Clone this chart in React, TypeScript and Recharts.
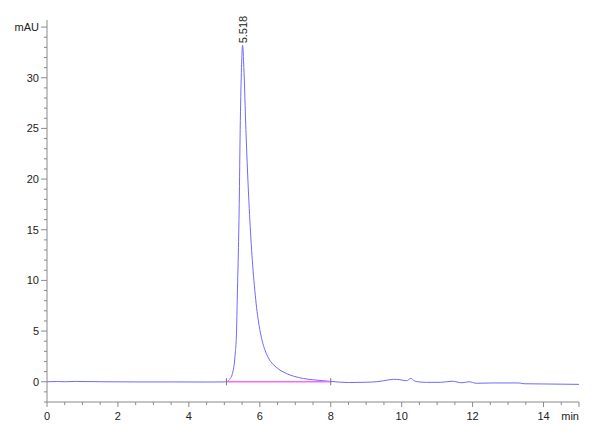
import { LineChart, Line, XAxis, YAxis, ReferenceLine, ReferenceDot } from "recharts";

// chromatogram trace (min / mAU)
const TIME = [
  0, 0.3, 0.5, 0.8, 1.5, 2.5, 3.5, 4.5, 5.0, 5.06, 5.14, 5.23, 5.3, 5.345, 5.37, 5.39, 5.42, 5.447, 5.48, 5.515,
  5.55, 5.608, 5.656, 5.73, 5.81, 5.86, 5.91, 5.96, 6.0, 6.07, 6.14, 6.22, 6.3, 6.38, 6.48, 6.6, 6.76, 6.95, 7.23,
  7.5, 7.78, 8.0, 8.5, 9.0, 9.3, 9.5, 9.77, 9.95, 10.14, 10.26, 10.35, 10.45, 10.7, 11.1, 11.42, 11.7, 11.9, 12.1,
  12.6, 13.3, 13.45, 14.0, 14.5, 15.0,
];
const SIGNAL = [
  0, 0.02, 0, 0.03, 0, -0.02, -0.02, -0.03, -0.02, 0, 0.2, 0.83, 2.5, 5.1, 9.06, 12.0, 17.5, 24.9, 30.5, 33.2,
  31.0, 24.9, 20.6, 15.3, 11.0, 9.0, 7.3, 6.0, 5.15, 4.0, 3.18, 2.5, 2.02, 1.7, 1.38, 1.08, 0.8, 0.55, 0.32,
  0.19, 0.1, 0.03, -0.08, -0.05, 0.0, 0.1, 0.24, 0.2, 0.1, 0.33, 0.1, 0.0, -0.06, -0.06, 0.05, -0.1, 0.0, -0.15,
  -0.12, -0.12, -0.2, -0.22, -0.24, -0.26,
];

// integration baseline + its end markers
const BASE_T = [5.06, 8.0];
const BASE_V = [0, 0];

const PEAK_T = 5.518;
const PEAK_V = 33.2;
const PEAK_LABEL = "5.518";

const X_TICKS = [0, 0.5, 1, 1.5, 2, 2.5, 3, 3.5, 4, 4.5, 5, 5.5, 6, 6.5, 7, 7.5, 8, 8.5, 9, 9.5, 10, 10.5, 11, 11.5, 12, 12.5, 13, 13.5, 14, 14.5, 15];
const X_LABEL_AT = [0, 2, 4, 6, 8, 10, 12, 14, 15];
const X_LABEL_TXT = ["0", "2", "4", "6", "8", "10", "12", "14", "min"];

const Y_TICKS = [-2, -1, 0, 1, 2, 3, 4, 5, 6, 7, 8, 9, 10, 11, 12, 13, 14, 15, 16, 17, 18, 19, 20, 21, 22, 23, 24, 25, 26, 27, 28, 29, 30, 31, 32, 33, 34, 35];
const Y_LABEL_AT = [0, 5, 10, 15, 20, 25, 30, 35];
const Y_LABEL_TXT = ["0", "5", "10", "15", "20", "25", "30", "mAU"];

const trace = TIME.map((t, i) => ({ t, v: SIGNAL[i] }));
const baseline = BASE_T.map((t, i) => ({ t, v: BASE_V[i] }));

const AXIS = "#8a8a8a";
const FONT = "'Liberation Sans', Arial, sans-serif";

function XTick({ x, y, payload }: any) {
  const k = X_LABEL_AT.indexOf(payload.value);
  const major = k >= 0;
  return (
    <g>
      <line x1={x} x2={x} y1={y} y2={y + (major ? 5 : 3)} stroke={AXIS} />
      {major && (
        <text x={x} y={y + 18} textAnchor={payload.value === 15 ? "end" : "middle"} fontSize={11} fontFamily={FONT} fill="#222">
          {X_LABEL_TXT[k]}
        </text>
      )}
    </g>
  );
}

function YTick({ x, y, payload }: any) {
  const k = Y_LABEL_AT.indexOf(payload.value);
  const major = k >= 0;
  return (
    <g>
      <line x1={x - (major ? 6 : 3)} x2={x} y1={y} y2={y} stroke={AXIS} />
      {major && (
        <text x={x - 8} y={y + 4} textAnchor="end" fontSize={11} fontFamily={FONT} fill="#222">
          {Y_LABEL_TXT[k]}
        </text>
      )}
    </g>
  );
}

function PeakLabel({ cx, cy }: any) {
  return (
    <text transform={`translate(${cx},${cy - 2}) rotate(-90)`} dominantBaseline="central" fontSize={11} fontFamily={FONT} fill="#222">
      {PEAK_LABEL}
    </text>
  );
}

export default function App() {
  return (
    <div style={{ position: "absolute", left: 0, top: 0, width: 600, height: 440, background: "#fff" }}>
      <LineChart width={600} height={440} margin={{ top: 20, right: 21, bottom: 0, left: 0 }}>
        <XAxis
          type="number" dataKey="t" domain={[0, 15]} ticks={X_TICKS} interval={0}
          height={38} tickSize={0} tickMargin={0} tickLine={false}
          axisLine={{ stroke: AXIS }} tick={<XTick />} allowDataOverflow
        />
        <YAxis
          type="number" dataKey="v" domain={[-2, 35.7]} ticks={Y_TICKS} interval={0}
          width={47} tickSize={0} tickMargin={0} tickLine={false}
          axisLine={{ stroke: AXIS }} tick={<YTick />} allowDataOverflow
        />
        <Line data={trace} dataKey="v" type="monotone" stroke="#6b6bff" strokeWidth={1} dot={false} isAnimationActive={false} />
        <Line data={baseline} dataKey="v" type="linear" stroke="#ff66ff" strokeWidth={1.3} dot={false} isAnimationActive={false} />
        {BASE_T.map((t) => (
          <ReferenceLine key={t} segment={[{ x: t, y: -0.35 }, { x: t, y: 0.35 }]} stroke="#777" strokeWidth={1} />
        ))}
        <ReferenceDot x={PEAK_T} y={PEAK_V} r={0} shape={<PeakLabel />} />
      </LineChart>
    </div>
  );
}
